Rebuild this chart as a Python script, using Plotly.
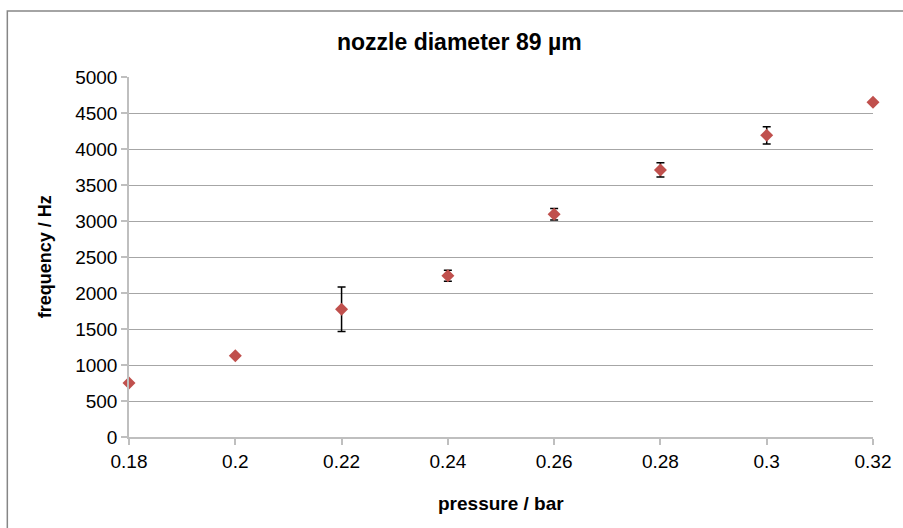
import plotly.graph_objects as go

pressure = [0.18, 0.20, 0.22, 0.24, 0.26, 0.28, 0.30, 0.32]
frequency = [750, 1130, 1775, 2240, 3095, 3710, 4190, 4650]
freq_err = [0, 0, 308, 76, 80, 100, 120, 0]

x_ticks = [0.18, 0.2, 0.22, 0.24, 0.26, 0.28, 0.3, 0.32]
x_tick_labels = ["0.18", "0.2", "0.22", "0.24", "0.26", "0.28", "0.3", "0.32"]
y_ticks = [0, 500, 1000, 1500, 2000, 2500, 3000, 3500, 4000, 4500, 5000]

title_text = "nozzle diameter 89 µm"
x_title = "pressure / bar"
y_title = "frequency / Hz"

FONT = "Liberation Sans, Arial, sans-serif"

fig = go.Figure()
fig.add_trace(go.Scatter(
    x=pressure, y=frequency, mode="markers",
    marker=dict(symbol="diamond", size=10, color="#C0504D"),
    error_y=dict(type="data", array=freq_err, visible=True,
                 color="black", thickness=1.5, width=4),
    cliponaxis=False, showlegend=False,
))

W, H = 903, 528
L, R, T, B = 129, 28, 77, 91
pw, ph = W - L - R, H - T - B

def px(x):
    return (x - L) / pw

def py(y):
    return (H - B - y) / ph

fig.update_layout(
    width=W, height=H,
    margin=dict(l=L, r=R, t=T, b=B),
    paper_bgcolor="white", plot_bgcolor="white",
    font=dict(family=FONT, size=19, color="black"),
    xaxis=dict(range=[0.18, 0.32], tickvals=x_ticks, ticktext=x_tick_labels,
               showgrid=False, zeroline=False, showline=True,
               linecolor="#BFBFBF", linewidth=1.5,
               ticks="outside", ticklen=6, tickcolor="#BFBFBF", tickwidth=1.5,
               tickfont=dict(size=19, family=FONT)),
    yaxis=dict(range=[0, 5000], tickvals=y_ticks,
               showgrid=True, gridcolor="#A6A6A6", gridwidth=1,
               zeroline=False, showline=True,
               linecolor="#BFBFBF", linewidth=1.5,
               ticks="outside", ticklen=6, tickcolor="#BFBFBF", tickwidth=1.5,
               tickfont=dict(size=19, family=FONT)),
    annotations=[
        dict(text=f"<b>{title_text}</b>", xref="paper", yref="paper",
             x=px(460), y=py(42), showarrow=False,
             font=dict(size=23, family=FONT), xanchor="center", yanchor="middle"),
        dict(text=f"<b>{x_title}</b>", xref="paper", yref="paper",
             x=px(502), y=py(503), showarrow=False,
             font=dict(size=19, family=FONT), xanchor="center", yanchor="middle"),
        dict(text=f"<b>{y_title}</b>", xref="paper", yref="paper",
             x=px(45), y=py(257), showarrow=False, textangle=-90,
             font=dict(size=18, family=FONT), xanchor="center", yanchor="middle"),
    ],
    shapes=[
        dict(type="rect", xref="paper", yref="paper",
             x0=px(7), x1=px(915), y0=py(540), y1=py(11),
             line=dict(color="#868686", width=1.5), layer="below"),
    ],
)

fig.write_html("out.html",
               config={"displayModeBar": False},
               post_script="document.body.style.margin='0';document.body.style.overflow='hidden';")
